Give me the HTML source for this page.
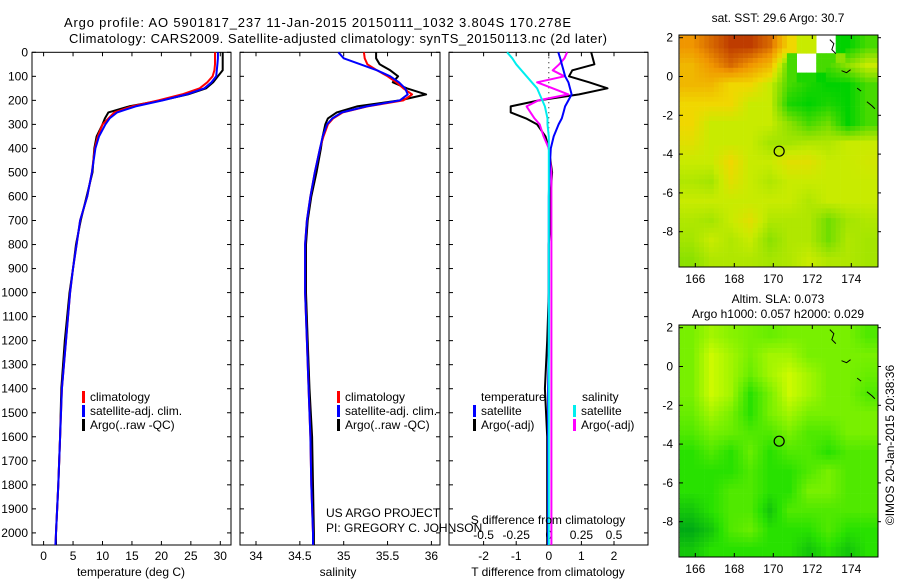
<!DOCTYPE html>
<html><head><meta charset="utf-8"><style>
body{margin:0;background:#fff;}
svg{font-family:"Liberation Sans",sans-serif;font-size:12px;}
</style></head><body>
<svg id="c" width="900" height="580" viewBox="0 0 900 580" xmlns="http://www.w3.org/2000/svg"></svg>
<script>
// ---------- data ----------
const depths = [0,25,50,75,100,125,150,175,200,225,250,275,300,350,400,500,600,700,800,900,1000,1200,1400,1600,1800,2000,2050];
const tempClim = [29.1,29.1,29.1,29.0,28.7,27.8,26.5,23.5,19.5,15,12,11,10,9.2,8.7,8.2,7.4,6.2,5.6,5,4.5,3.8,3.1,2.8,2.5,2.1,2.0];
const tempSat  = [29.6,29.6,29.5,29.4,29.3,28.5,27.3,24.3,20.2,15.6,12.5,11.2,10.5,9.4,8.8,8.2,7.4,6.2,5.6,5,4.5,3.8,3.1,2.8,2.5,2.1,2.0];
const tempArgo = [30.4,30.4,30.4,30.4,29.6,28.8,27.6,24.5,20,14.5,11,10.4,10,9,8.6,8.3,7.3,6.3,5.5,5,4.4,3.6,3.0,2.8,2.5,2.1,2.1];
const salClim = [35.23,35.24,35.27,35.38,35.5,35.6,35.68,35.78,35.68,35.27,34.99,34.88,34.82,34.77,34.73,34.67,34.62,34.58,34.56,34.56,34.56,34.58,34.6,34.62,34.63,34.65,34.65];
const salSat  = [34.94,35.0,35.19,35.38,35.53,35.63,35.7,35.73,35.64,35.26,34.98,34.87,34.81,34.76,34.73,34.67,34.62,34.58,34.56,34.56,34.56,34.58,34.6,34.62,34.63,34.65,34.65];
const salArgo = [35.37,35.37,35.41,35.53,35.62,35.56,35.72,35.94,35.64,35.15,34.92,34.82,34.79,34.76,34.74,34.69,34.63,34.59,34.57,34.57,34.57,34.59,34.61,34.64,34.65,34.66,34.66];
const dTSat  = [0.29,0.35,0.4,0.45,0.5,0.6,0.65,0.7,0.6,0.5,0.45,0.4,0.3,0.15,0.06,0.02,0,0,0,0,0,0,-0.02,-0.02,-0.02,-0.02,-0.02];
const dTArgo = [1.3,1.35,1.4,0.72,0.62,1.24,1.8,0.93,-0.3,-1.17,-1.17,-0.7,-0.36,-0.1,0,0.1,0.05,0.05,0,0,0,-0.05,-0.12,-0.05,-0.05,-0.05,-0.05];
const dSSat  = [-0.32,-0.28,-0.25,-0.21,-0.17,-0.13,-0.09,-0.07,-0.05,-0.03,-0.02,-0.01,-0.01,0,0,0,0,0,0,0,0,0,0,0,0,0,0];
const dSArgo = [0.14,0.12,0.08,0.03,0.12,-0.09,0.03,0.15,-0.08,-0.17,-0.14,-0.11,-0.07,-0.04,0.0,0.02,0.02,0.02,0.02,0.02,0.02,0.02,0.02,0.02,0.02,0.02,0.02];
const depthTicks = [0,100,200,300,400,500,600,700,800,900,1000,1100,1200,1300,1400,1500,1600,1700,1800,1900,2000];
const tempTicks = [0,5,10,15,20,25,30];
const salTicks = [34,34.5,35,35.5,36];
const dTTicks = [-2,-1,0,1,2];
const dSTicks = [-0.5,-0.25,0,0.25,0.5];
const lonTicks = [166,168,170,172,174];
const latTicks = [2,0,-2,-4,-6,-8];
const sstGrid = [
[4,4.5,5,5,4.5,3,2.5,-1,1,1.5],
[3.5,4,4.5,4,3.5,1.5,-1,1.5,2,2.5],
[3.5,3.5,3,3,2.5,1.5,1.2,1,1,1.5],
[3,3,3,2.5,2.5,1.2,1,1.2,1,1.5],
[3,2.5,2.5,2.5,2.5,2,1.5,1.8,1,1.5],
[2.8,2.5,2.5,2.5,2.2,2.2,2.3,2.3,2.5,2.5],
[2.5,2.5,3,2.5,2.5,2.8,2.8,2.5,2.5,2.6],
[2.3,2.2,2.8,2.5,2.3,2.5,2.5,2.5,2.5,2.5],
[2.5,2.5,2.5,2.5,2.5,2.5,2.3,2.5,2.5,2.5],
[2.3,2.2,2.5,2.8,2.3,2.3,2.3,1.8,2.2,2.3],
[2.2,2.5,2.3,2.5,2,2.3,2.3,1.8,2.3,2.2],
[2,2.3,2.3,2.3,2.2,2.3,2.5,2.3,2.3,2.2]];
const slaGrid = [
[2,2.5,2.2,2,1.8,2,2,2,2,1.5],
[2,3,2.5,2,2.5,2.5,2,2,2,2],
[2,3,2.5,1.8,2.5,3,2.5,2,2,1.8],
[2,3,2.5,1,2,3,2.5,2,2,1.5],
[1.8,2.5,2,1,2,2.5,2,2,2,2],
[1.5,2,1.8,1.5,1.5,2,1.5,1.5,2,2],
[1,1.5,1,1.8,1,1.5,1.5,1,1.5,1.5],
[1,1,1,1.5,1,1,1.5,2,1.5,1.5],
[1,1,1.5,1.5,1,1,2,2,1.5,1.5],
[0.5,1,1.5,1.5,0.5,1.5,1.5,1.5,1.5,1.5],
[0,0.5,1.5,1.8,1,1,1,1.5,1,1],
[0.5,1,1,1,1,1,0.5,1,0.5,1]];
const floatLon = 170.3, floatLat = -3.85;

// ---------- helpers ----------
const S = document.getElementById('c');
const NS = 'http://www.w3.org/2000/svg';
function mk(tag, attrs, parent){const e=document.createElementNS(NS,tag);for(const k in attrs)e.setAttribute(k,attrs[k]);(parent||S).appendChild(e);return e;}
function txt(x,y,s,anchor,parent){const e=mk('text',{x:x,y:y,'text-anchor':anchor||'start'},parent);e.textContent=s;return e;}
const TOP=52.3, BOT=545;
const yD = d => TOP + d*0.2403;
const xT = t => 43.6 + t*5.89;
const xS = s => 256 + (s-34)*87.7;
const xDT = v => 548.8 + v*32.6;
const xDS = v => 548.8 + v*130.4;
const panels = [[32,231],[240,440],[449,648]];

panels.forEach((p,i)=>{
  const r=mk('rect',{x:p[0],y:TOP,width:p[1]-p[0],height:BOT-TOP,fill:'none',stroke:'#000','stroke-width':1});
  
  
  depthTicks.forEach(d=>{
    mk('line',{x1:p[0],x2:p[0]+4,y1:yD(d),y2:yD(d),stroke:'#000'});
    mk('line',{x1:p[1]-4,x2:p[1],y1:yD(d),y2:yD(d),stroke:'#000'});
  });
});
depthTicks.forEach(d=>{
  const t=txt(28,yD(d)+4,String(d),'end');
  
  
});
function xTicks(vals,fx,labelY){
  vals.forEach(v=>{
    const x=fx(v);
    mk('line',{x1:x,x2:x,y1:TOP,y2:TOP+4,stroke:'#000'});
    mk('line',{x1:x,x2:x,y1:BOT-4,y2:BOT,stroke:'#000'});
    const t=txt(x,labelY,String(v),'middle');
    
    
  });
}
xTicks(tempTicks,xT,560);
xTicks(salTicks,xS,560);
xTicks(dTTicks,xDT,560);
dSTicks.forEach(v=>{
  const t=txt(xDS(v),539,String(v),'middle');
  
  
});
mk('line',{x1:xDT(0),x2:xDT(0),y1:TOP,y2:BOT,stroke:'#000','stroke-dasharray':'1,4'});

function series(xs,fx,color,name,w){
  const pts=depths.map((d,i)=>fx(xs[i]).toFixed(1)+','+yD(d).toFixed(1)).join(' ');
  const e=mk('polyline',{points:pts,fill:'none',stroke:color,'stroke-width':w||2,'stroke-linejoin':'round'});
  
  
}
series(tempArgo,xT,'#000','temp-argo-line');
series(tempClim,xT,'#f00','temp-climatology-line');
series(tempSat,xT,'#00f','temp-satellite-line');
series(salArgo,xS,'#000','sal-argo-line');
series(salClim,xS,'#f00','sal-climatology-line');
series(salSat,xS,'#00f','sal-satellite-line');
series(dTArgo,xDT,'#000','dT-argo-line');
series(dSArgo,xDS,'#f0f','dS-argo-line');
series(dTSat,xDT,'#00f','dT-satellite-line');
series(dSSat,xDS,'#0ee','dS-satellite-line');

function leg(x,y,color,label){
  mk('rect',{x:x,y:y-10,width:3,height:12,fill:color});
  const t=txt(x+8,y,label);
  
  
}
[[82],[337]].forEach(a=>{
  leg(a[0],401,'#f00','climatology');
  leg(a[0],415,'#00f','satellite-adj. clim.');
  leg(a[0],429,'#000','Argo(..raw -QC)');
});
txt(481,401,'temperature'); txt(582,401,'salinity');
leg(473,415,'#00f','satellite'); leg(473,429,'#000','Argo(-adj)');
leg(573,415,'#0ee','satellite'); leg(573,429,'#f0f','Argo(-adj)');

txt(326,517,'US ARGO PROJECT');
txt(326,532,'PI: GREGORY C. JOHNSON');
txt(548,524,'S difference from climatology','middle');
txt(131,576,'temperature (deg C)','middle');
txt(338,576,'salinity','middle');
txt(548,576,'T difference from climatology','middle');
const t1=txt(64,27,'Argo profile: AO 5901817_237 11-Jan-2015 20150111_1032 3.804S 170.278E');
t1.setAttribute('textLength','507');t1.setAttribute('font-size','13');

const t2=txt(69,43,'Climatology: CARS2009. Satellite-adjusted climatology: synTS_20150113.nc (2d later)');
t2.setAttribute('textLength','538');t2.setAttribute('font-size','13');


// ---------- maps ----------
function lerpC(stops,v){
  for(let i=0;i<stops.length-1;i++){
    const a=stops[i],b=stops[i+1];
    if(v<=b[0]){const f=Math.max(0,(v-a[0])/(b[0]-a[0]));return 'rgb('+[1,2,3].map(k=>Math.round(a[k]+(b[k]-a[k])*f)).join(',')+')';}
  }
  const l=stops[stops.length-1];return 'rgb('+l[1]+','+l[2]+','+l[3]+')';
}
const sstStops=[[0,0,160,0],[1,0,210,0],[2,140,225,0],[2.5,200,235,0],[3,240,215,0],[4,240,150,0],[5,190,60,0]];
const slaStops=[[0,0,170,20],[1,40,225,0],[2,120,240,0],[3,205,250,0]];
function sample(grid,fr,fc){
  const r0=Math.max(0,Math.min(grid.length-1,Math.floor(fr))), c0=Math.max(0,Math.min(grid[0].length-1,Math.floor(fc)));
  const r1=Math.min(grid.length-1,r0+1), c1=Math.min(grid[0].length-1,c0+1);
  const vals=[grid[r0][c0],grid[r0][c1],grid[r1][c0],grid[r1][c1]];
  if(vals.some(v=>v<0)) return grid[Math.round(Math.min(grid.length-1,Math.max(0,fr)))][Math.round(Math.min(grid[0].length-1,Math.max(0,fc)))];
  const a=Math.max(0,Math.min(1,fr-r0)), b=Math.max(0,Math.min(1,fc-c0));
  return vals[0]*(1-a)*(1-b)+vals[1]*(1-a)*b+vals[2]*a*(1-b)+vals[3]*a*b;
}
function drawMap(x0,y0,w,h,lat2y,grid,stops,name){
  const g=mk('g',{});
  
  
  const lonX = lon => 695.3 + (lon-166)*19.5;
  const latY = lat => lat2y + (2-lat)*19.4;
  const cp=mk('clipPath',{id:name+'-clip'},g);
  mk('rect',{x:x0,y:y0,width:w,height:h},cp);
  const cg=mk('g',{'clip-path':'url(#'+name+'-clip)'},g);
  mk('rect',{x:x0,y:y0,width:w,height:h,fill:'#fff'},cg);
  const step=0.25;
  for(let la=2.2; la>-10; la-=step){
    for(let lo=165.2; lo<175.5; lo+=step){
      const fr=(2.2-la)-0.5, fc=(lo-165.2)-0.5;
      const v=sample(grid,fr,fc);
      if(v<0) continue;
      mk('rect',{x:lonX(lo).toFixed(1),y:latY(la).toFixed(1),width:5.2,height:5.2,fill:lerpC(stops,v)},cg);
    }
  }
  mk('path',{d:`M${lonX(172.9)} ${latY(1.9)} l4 4 l-2 6 l4 4 M${lonX(173.5)} ${latY(0.3)} l5 2 l4 -3 M${lonX(174.3)} ${latY(-0.6)} l4 3 M${lonX(174.8)} ${latY(-1.3)} l5 4 l3 3`,fill:'none',stroke:'#000','stroke-width':1},cg);
  mk('rect',{x:x0,y:y0,width:w,height:h,fill:'none',stroke:'#000'},g);
  const circ=mk('circle',{cx:lonX(floatLon),cy:latY(floatLat),r:5,fill:'none',stroke:'#000','stroke-width':1.2},g);
  
  
  lonTicks.forEach(lo=>{
    const x=lonX(lo);
    mk('line',{x1:x,x2:x,y1:y0,y2:y0+4,stroke:'#000'},g);
    mk('line',{x1:x,x2:x,y1:y0+h-4,y2:y0+h,stroke:'#000'},g);
    txt(x,y0+h+16,String(lo),'middle',g);
  });
  latTicks.forEach(la=>{
    const y=latY(la);
    mk('line',{x1:x0,x2:x0+4,y1:y,y2:y,stroke:'#000'},g);
    mk('line',{x1:x0+w,x2:x0+w+3,y1:y,y2:y,stroke:'#000'},g);
    txt(x0-6,y+4,String(la),'end',g);
  });
}
drawMap(679,35,199,232,37.7,sstGrid,sstStops,'sst-map');
drawMap(679,325,199,232,327.7,slaGrid,slaStops,'sla-map');
txt(778,22,'sat. SST: 29.6 Argo: 30.7','middle');
txt(778,303,'Altim. SLA: 0.073','middle');
txt(778,318,'Argo h1000: 0.057 h2000: 0.029','middle');
const cr=txt(0,0,'©IMOS 20-Jan-2015 20:38:36','middle');
cr.setAttribute('transform','translate(894,445) rotate(-90)');


</script>
</body></html>
